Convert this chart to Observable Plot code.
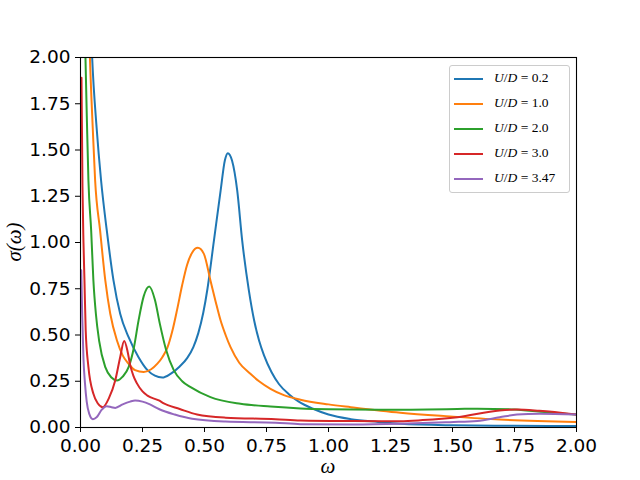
<!DOCTYPE html>
<html>
<head>
<meta charset="utf-8">
<script src="https://cdn.jsdelivr.net/npm/d3@7"></script>
<script src="https://cdn.jsdelivr.net/npm/@observablehq/plot@0.6"></script>
<style>
  body { margin: 0; background: #fff; }
  #wrap { position: relative; width: 640px; height: 480px; overflow: hidden; }
  #legend {
    position: absolute; left: 449px; top: 65px; width: 121px; height: 128px;
    border: 1px solid #cccccc; border-radius: 3px; background: rgba(255,255,255,0.8);
    font-family: "Liberation Serif", "DejaVu Serif", serif; font-size: 13.5px; color: #000;
    box-sizing: border-box;
  }
  .row { position: absolute; left: 0; height: 20px; width: 119px; }
  .sw { position: absolute; left: 4px; width: 29px; height: 0; border-top: 2px solid; top: 9px; }
  .lab { position: absolute; left: 44px; top: 1px; white-space: nowrap; }
  .lab i { font-style: italic; }
</style>
</head>
<body>
<div id="wrap"><div id="chart"></div><div id="legend"></div></div>
<script>
// U/D = 0.2
const w02 = [0.035,0.047,0.065,0.083,0.106,0.133,0.16,0.194,0.234,0.27,0.3,0.33,0.363,0.40,0.43,0.455,0.475,0.495,0.512,0.538,0.565,0.582,0.594,0.611,0.632,0.652,0.679,0.70,0.72,0.74,0.77,0.80,0.84,0.88,0.94,1.0,1.09,1.2,1.29,1.5,1.75,2.0];
const s02 = [2.45,2.0,1.62,1.335,1.065,0.795,0.615,0.488,0.38,0.31,0.28,0.27,0.29,0.33,0.375,0.435,0.51,0.62,0.75,1.01,1.28,1.443,1.483,1.443,1.28,1.01,0.74,0.58,0.47,0.39,0.3,0.235,0.18,0.14,0.1,0.07,0.045,0.03,0.02,0.012,0.009,0.008];
// U/D = 1.0
const w10 = [0.028,0.038,0.05,0.059,0.079,0.1,0.12,0.147,0.17,0.194,0.22,0.255,0.285,0.31,0.33,0.35,0.37,0.39,0.41,0.43,0.45,0.473,0.497,0.524,0.545,0.565,0.585,0.605,0.64,0.685,0.72,0.766,0.82,0.887,1.0,1.09,1.29,1.49,1.69,2.0];
const s10 = [2.5,2.0,1.6,1.335,1.065,0.795,0.615,0.47,0.39,0.344,0.31,0.30,0.315,0.345,0.38,0.43,0.52,0.64,0.77,0.88,0.945,0.971,0.94,0.795,0.68,0.578,0.5,0.434,0.35,0.29,0.25,0.209,0.175,0.15,0.125,0.11,0.08,0.06,0.043,0.03];
// U/D = 2.0
const w20 = [0.012,0.02,0.026,0.032,0.043,0.052,0.062,0.075,0.1,0.125,0.147,0.17,0.194,0.215,0.234,0.255,0.277,0.3,0.32,0.345,0.376,0.41,0.444,0.524,0.645,0.766,0.887,1.0,1.25,1.52,1.6,1.75,1.895,2.0];
const s20 = [2.6,2.0,1.65,1.335,1.065,0.795,0.615,0.47,0.326,0.27,0.254,0.275,0.326,0.43,0.578,0.71,0.762,0.69,0.56,0.42,0.31,0.25,0.218,0.164,0.128,0.113,0.103,0.099,0.096,0.10,0.102,0.097,0.08,0.07];
// U/D = 3.0
const w30 = [0.004,0.008,0.012,0.016,0.021,0.032,0.052,0.07,0.09,0.115,0.14,0.16,0.176,0.19,0.2,0.213,0.227,0.25,0.27,0.316,0.336,0.4,0.47,0.585,0.786,0.887,1.1,1.29,1.38,1.52,1.69,1.76,1.85,2.0];
const s30 = [1.89,1.3,1.0,0.795,0.524,0.326,0.182,0.13,0.11,0.16,0.254,0.38,0.467,0.41,0.34,0.28,0.24,0.195,0.172,0.146,0.13,0.1,0.07,0.053,0.045,0.038,0.035,0.034,0.04,0.056,0.092,0.097,0.09,0.07];
// U/D = 3.47
const w347 = [0.003,0.007,0.012,0.018,0.025,0.035,0.05,0.065,0.085,0.106,0.125,0.14,0.17,0.2,0.22,0.25,0.28,0.316,0.38,0.45,0.585,0.786,0.887,1.1,1.29,1.49,1.6,1.69,1.76,1.85,2.0];
const s347 = [0.85,0.6,0.37,0.24,0.14,0.075,0.045,0.055,0.095,0.115,0.11,0.106,0.125,0.14,0.146,0.14,0.125,0.1,0.07,0.047,0.032,0.026,0.018,0.016,0.02,0.029,0.035,0.055,0.07,0.075,0.07];

const seriesValues = ["0.2", "1.0", "2.0", "3.0", "3.47"];
const seriesW = [w02, w10, w20, w30, w347];
const seriesS = [s02, s10, s20, s30, s347];
const colors = ["#1f77b4", "#ff7f0e", "#2ca02c", "#d62728", "#9467bd"];
const xTicks = [0, 0.25, 0.5, 0.75, 1.0, 1.25, 1.5, 1.75, 2.0];
const yTicks = [0, 0.25, 0.5, 0.75, 1.0, 1.25, 1.5, 1.75, 2.0];

const rows = [];
seriesValues.forEach((u, i) => {
  seriesW[i].forEach((w, j) => rows.push({series: u, w, s: seriesS[i][j]}));
});

const chart = Plot.plot({
  width: 640,
  height: 480,
  marginLeft: 80,
  marginRight: 64,
  marginTop: 57,
  marginBottom: 53,
  style: {fontFamily: "DejaVu Sans", fontSize: "18.5px", background: "#fff", color: "#000"},
  x: {domain: [0, 2], ticks: xTicks, tickFormat: d3.format(".2f"), tickSize: 5, tickPadding: 6, label: null},
  y: {domain: [0, 2], ticks: yTicks, tickFormat: d3.format(".2f"), tickSize: 5, tickPadding: 5, label: null},
  color: {domain: seriesValues, range: colors},
  marks: [
    Plot.line(rows, {x: "w", y: "s", z: "series", stroke: "series", strokeWidth: 2, curve: "monotone-x", clip: true}),
    Plot.frame({stroke: "#000", strokeWidth: 1.1})
  ]
});
document.getElementById("chart").appendChild(chart);

const svg = d3.select(chart);
svg.append("text")
  .attr("transform", "translate(21,242) rotate(-90)")
  .attr("text-anchor", "middle")
  .attr("font-family", "Liberation Serif, DejaVu Serif, serif")
  .attr("font-style", "italic")
  .attr("font-size", 21)
  .attr("fill", "#000")
  .text("σ(ω)");
svg.append("text")
  .attr("x", 328).attr("y", 473)
  .attr("text-anchor", "middle")
  .attr("font-family", "Liberation Serif, DejaVu Serif, serif")
  .attr("font-style", "italic")
  .attr("font-size", 21)
  .attr("fill", "#000")
  .text("ω");

const legend = d3.select("#legend");
seriesValues.forEach((u, i) => {
  const r = legend.append("div").attr("class", "row").style("top", (3 + i * 25) + "px");
  r.append("div").attr("class", "sw").style("border-color", colors[i]);
  r.append("div").attr("class", "lab").html("<i>U</i>/<i>D</i> = " + u);
});
</script>
</body>
</html>
